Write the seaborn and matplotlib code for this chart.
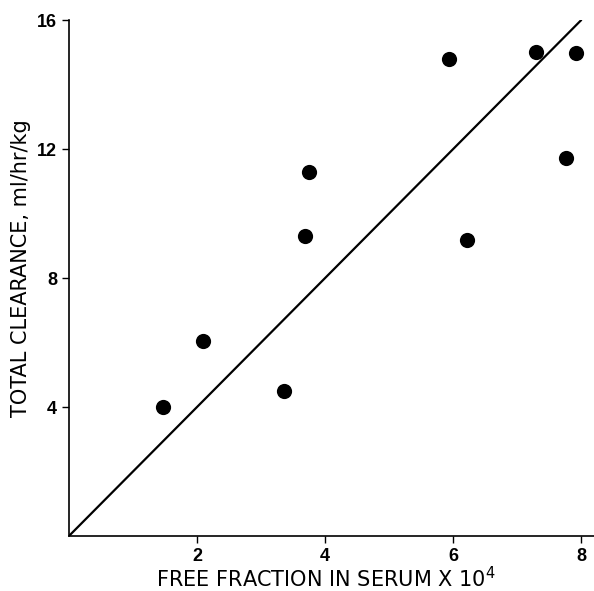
import pandas as pd
import seaborn as sns
import matplotlib.pyplot as plt

free_fraction = [1.47, 2.10, 3.36, 3.69, 3.75, 5.94, 6.21, 7.30, 7.77, 7.92]
clearance = [4.0, 6.04, 4.49, 9.31, 11.3, 14.78, 9.19, 15.0, 11.73, 14.99]
fit_x = [0, 8]
fit_y = [0, 16]

df = pd.DataFrame({'x': free_fraction, 'y': clearance})
fit = pd.DataFrame({'x': fit_x, 'y': fit_y})

sns.set_style('ticks')
plt.rcParams['font.family'] = ['Liberation Sans', 'DejaVu Sans']

fig = plt.figure(figsize=(5.94, 5.91), dpi=100)
ax = fig.add_axes([0.116, 0.093, 0.884, 0.873])

sns.lineplot(x='x', y='y', data=fit, ax=ax, color='black', linewidth=1.6)
sns.scatterplot(x='x', y='y', data=df, ax=ax, color='black', s=120,
                edgecolor='black', linewidth=0, zorder=3)

ax.set_xlim(0, 8.2)
ax.set_ylim(0, 16)
ax.set_xticks([2, 4, 6, 8])
ax.set_yticks([4, 8, 12, 16])
ax.tick_params(axis='both', length=5, width=1, labelsize=13,
               color='black', labelcolor='black')
for lbl in ax.get_xticklabels() + ax.get_yticklabels():
    lbl.set_fontweight('bold')

label_font = {'family': 'DejaVu Sans', 'size': 15, 'color': 'black'}
ax.set_xlabel('FREE FRACTION IN SERUM X 10$^4$', fontdict=label_font)
ax.set_ylabel('TOTAL CLEARANCE, ml/hr/kg', fontdict=label_font)
ax.xaxis.set_label_coords(0.49, -0.058)
ax.yaxis.set_label_coords(-0.072, 0.52)

sns.despine(ax=ax)
for s in ['left', 'bottom']:
    ax.spines[s].set_linewidth(1.2)
    ax.spines[s].set_color('black')

fig.savefig('out.png', dpi=100)
